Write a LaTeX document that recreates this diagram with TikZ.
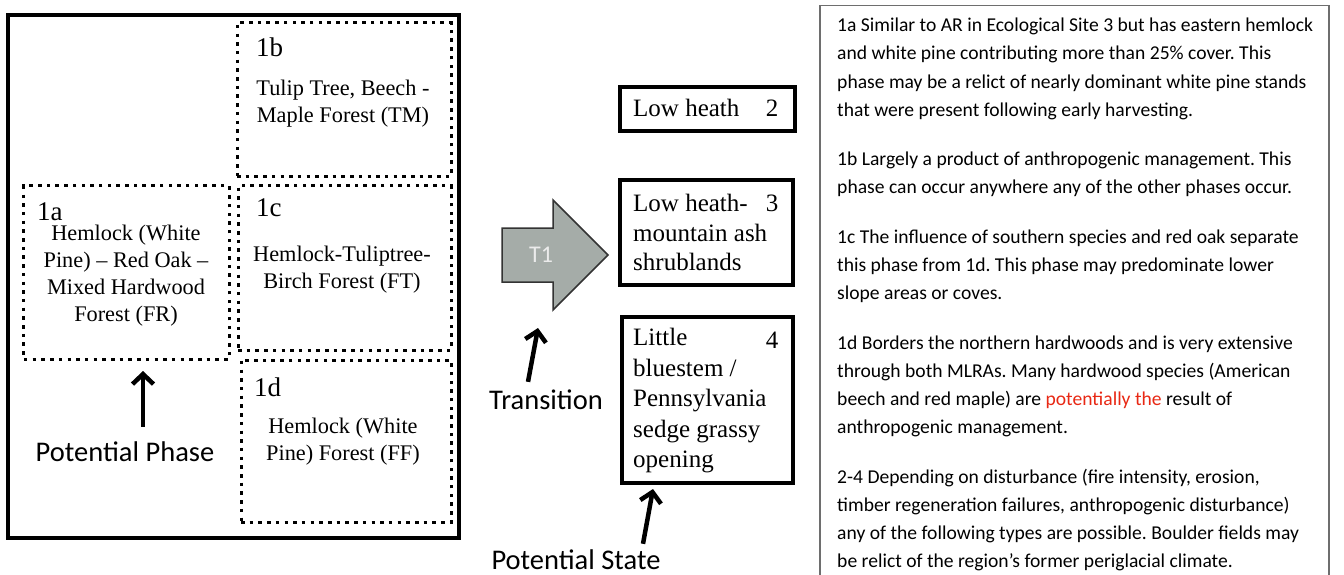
\documentclass[tikz,border=0pt]{standalone}
\usepackage{fontspec}
\setmainfont{Liberation Serif}
\newfontfamily\notefont{Carlito}
\usetikzlibrary{arrows.meta, positioning, calc}
\definecolor{arrowgrey}{RGB}{165,172,168}
\definecolor{notered}{RGB}{232,40,20}
\definecolor{framegrey}{RGB}{110,110,110}
\tikzset{
  phasebox/.style={draw, line width=3bp, dash pattern=on 3.5bp off 5.2bp, inner sep=0},
  statebox/.style={draw, line width=4bp, inner sep=0},
  phasetag/.style={font=\fontsize{27bp}{27bp}\selectfont, anchor=west, inner sep=0},
  phasetext/.style={font=\fontsize{22.3bp}{27bp}\selectfont, align=center, inner sep=0},
  statetext/.style={font=\fontsize{25bp}{29.5bp}\selectfont, align=left, anchor=west, inner sep=0},
  callout/.style={font=\notefont\fontsize{28.5bp}{28.5bp}\selectfont, inner sep=0},
  pointer/.style={line width=4.5bp, -{Straight Barb[length=10bp,width=21bp]}},
}

\begin{document}
\frenchspacing
\begin{tikzpicture}[x=1bp, y=-1bp]
    \useasboundingbox (0,0) rectangle (1344,575);

    % Phases of state 1
    \node[draw, line width=4bp, minimum width=451bp, minimum height=523bp, inner sep=0] (frame) at (233.5,276.5) {};
    \node[phasebox, minimum width=214bp, minimum height=153bp] (b1b) at (344,99.5) {};
    \node[phasebox, minimum width=205bp, minimum height=173bp] (b1a) at (126.5,272.5) {};
    \node[phasebox, minimum width=213bp, minimum height=164bp] (b1c) at (344.5,268) {};
    \node[phasebox, minimum width=210bp, minimum height=162bp] (b1d) at (346,441) {};

    \node[phasetag] (t1b) at (256,47) {1b};
    \node[phasetext] (x1b) at (343,103.5) {Tulip Tree, Beech -\\Maple Forest (TM)};
    \node[phasetag] (t1a) at (37,212) {1a};
    \node[phasetext] (x1a) at (126,276) {Hemlock (White\\Pine) – Red Oak –\\Mixed Hardwood\\Forest (FR)};
    \node[phasetag] (t1c) at (256,208) {1c};
    \node[phasetext] (x1c) at (342,270) {Hemlock-Tuliptree-\\Birch Forest (FT)};
    \node[phasetag] (t1d) at (254,387) {1d};
    \node[phasetext] (x1d) at (343,441.5) {Hemlock (White\\Pine) Forest (FF)};

    % Transition arrow
    \draw[line width=1.5bp, draw=black!80, fill=arrowgrey] (502,228) -- (553,228) -- (553,200) -- (608,255)
        -- (553,310) -- (553,282) -- (502,282) -- cycle;
    \node[font=\notefont\fontsize{24bp}{24bp}\selectfont, text=white!92!black] (t1) at (541,255) {T1};

    % Alternative states
    \node[statebox, minimum width=175bp, minimum height=44bp] (st2) at (707.5,109) {};
    \node[statebox, minimum width=173bp, minimum height=105bp] (st3) at (706.5,232.5) {};
    \node[statebox, minimum width=171bp, minimum height=166bp] (st4) at (707.5,400) {};

    \node[statetext] (x2) at (633,108) {Low heath};
    \node[statetext] (x3) at (633,232.5) {Low heath-\\mountain ash\\shrublands};
    \node[statetext, font=\fontsize{25bp}{30.5bp}\selectfont] (x4) at (633,401) {Little\\bluestem /\\Pennsylvania\\sedge grassy\\opening};
    \node[font=\fontsize{25bp}{25bp}\selectfont, inner sep=0] (n2) at (772,108) {2};
    \node[font=\fontsize{25bp}{25bp}\selectfont, inner sep=0] (n3) at (772,203) {3};
    \node[font=\fontsize{25bp}{25bp}\selectfont, inner sep=0] (n4) at (772,340) {4};

    % Call-outs
    \node[callout] (pphase) at (125,452) {Potential Phase};
    \node[callout] (trans) at (546,400) {Transition};
    \node[callout] (pstate) at (576,560) {Potential State};
    \coordinate (phasetip) at (143,371);
    \coordinate (transtip) at (538,328);
    \coordinate (statetip) at (653,489);
    \draw[pointer, shorten <=15bp] (pphase.north -| phasetip) -- (phasetip);
    \draw[pointer] ([xshift=-18bp,yshift=8bp]trans.north) -- (transtip);
    \draw[pointer] ([xshift=67bp,yshift=6bp]pstate.north) -- (statetip);

    % Notes
    \node[draw=framegrey, line width=1.5bp, minimum width=509bp, minimum height=600bp, anchor=north west, inner sep=0] (notebox) at (819,5) {};
    \node[font=\notefont\fontsize{19.6bp}{28.1bp}\selectfont, align=left, anchor=north west, inner sep=0] (notes) at (837,18) {%
        1a Similar to AR in Ecological Site 3 but has eastern hemlock\\
        and white pine contributing more than 25\% cover. This\\
        phase may be a relict of nearly dominant white pine stands\\
        that were present following early harvesting.\\[21.6bp]
        1b Largely a product of anthropogenic management. This\\
        phase can occur anywhere any of the other phases occur.\\[21.6bp]
        1c The influence of southern species and red oak separate\\
        this phase from 1d. This phase may predominate lower\\
        slope areas or coves.\\[21.6bp]
        1d Borders the northern hardwoods and is very extensive\\
        through both MLRAs. Many hardwood species (American\\
        beech and red maple) are \textcolor{notered}{potentially the} result of\\
        anthropogenic management.\\[21.6bp]
        2-4 Depending on disturbance (fire intensity, erosion,\\
        timber regeneration failures, anthropogenic disturbance)\\
        any of the following types are possible. Boulder fields may\\
        be relict of the region’s former periglacial climate.};
\end{tikzpicture}
\end{document}
